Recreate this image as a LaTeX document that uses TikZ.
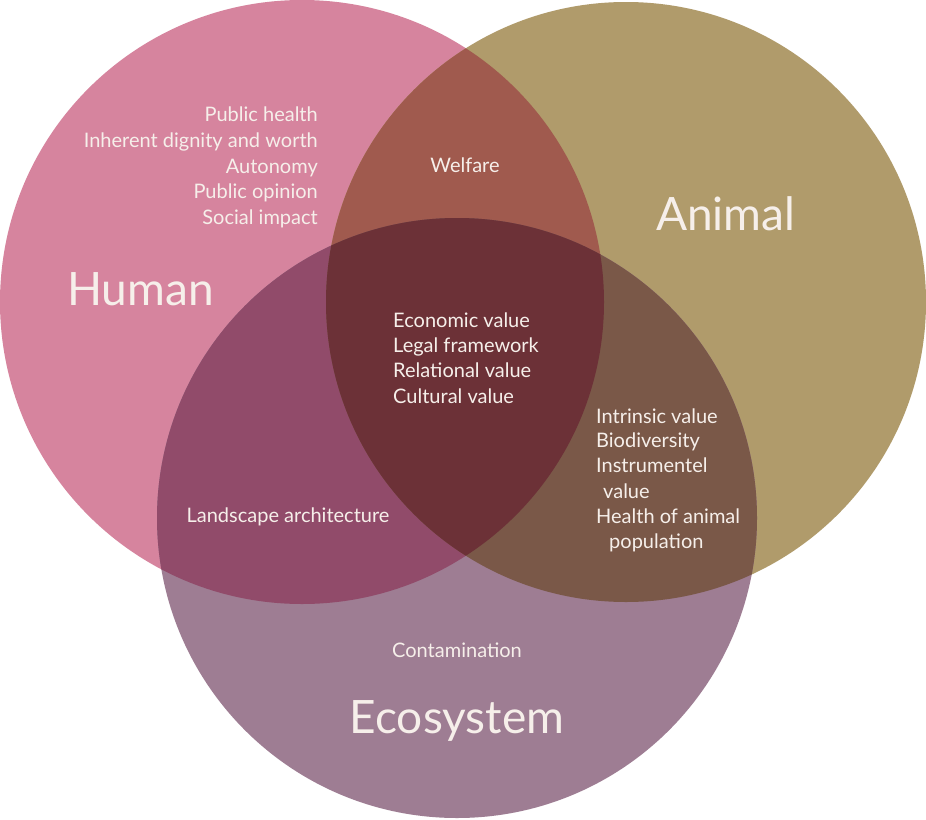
\documentclass[tikz,border=0pt]{standalone}
\usepackage{fontspec}
\setmainfont{Lato}
\usetikzlibrary{positioning}
\definecolor{humanfill}{HTML}{D6849E}
\definecolor{animalfill}{HTML}{B09B6B}
\definecolor{ecofill}{HTML}{9E7D93}
\definecolor{hafill}{HTML}{A05A4E}
\definecolor{hefill}{HTML}{914B6A}
\definecolor{aefill}{HTML}{7A5848}
\definecolor{corefill}{HTML}{6C3137}
\definecolor{labeltext}{HTML}{F6EFEA}

\begin{document}
\begin{tikzpicture}[x=1pt, y=-1pt,
        big/.style={font=\fontsize{46}{46}\selectfont, text=labeltext, inner sep=0pt},
        item/.style={font=\fontsize{20}{24}\selectfont, text=labeltext, inner sep=0pt},
    ]
    \useasboundingbox[fill=white] (0,0) rectangle (926,819);

    % circle centres
    \coordinate (hc) at (302,302);
    \coordinate (ac) at (626,302);
    \coordinate (ec) at (457,518);

    % the three sets
    \fill[humanfill] (hc) circle[radius=302];
    \fill[animalfill] (ac) circle[radius=300];
    \fill[ecofill] (ec) circle[radius=300];

    % pairwise overlaps
    \begin{scope}
        \clip (hc) circle[radius=302];
        \fill[hafill] (ac) circle[radius=300];
        \fill[hefill] (ec) circle[radius=300];
    \end{scope}
    \begin{scope}
        \clip (ac) circle[radius=300];
        \fill[aefill] (ec) circle[radius=300];
        % all three
        \clip (hc) circle[radius=302];
        \fill[corefill] (ec) circle[radius=300];
    \end{scope}

    % set names
    \node[big, anchor=base west] (human) at (67,305) {Human};
    \node[big, anchor=base west] (animal) at (656,230) {Animal};
    \node[big, anchor=base] (eco) at (457,733) {Ecosystem};

    % human only
    \foreach \txt [count=\i] in {Public health, Inherent dignity and worth,
            Autonomy, Public opinion, Social impact}
        \node[item, anchor=base east] (hum\i) at (318, 96+25.7*\i) {\txt};

    % human and animal
    \node[item, anchor=base] (welfare) at (465,172) {Welfare};

    % all three
    \foreach \txt [count=\i] in {Economic value, Legal framework,
            Relational value, Cultural value}
        \node[item, anchor=base west] (core\i) at (393, 302+25.3*\i) {\txt};

    % animal and ecosystem
    \node[item, anchor=base west] (ae1) at (596,423) {Intrinsic value};
    \node[item, anchor=base west] (ae2) at (596,447) {Biodiversity};
    \node[item, anchor=base west] (ae3) at (596,472) {Instrumentel};
    \node[item, anchor=base west] (ae4) at (603,498) {value};
    \node[item, anchor=base west] (ae5) at (596,523) {Health of animal};
    \node[item, anchor=base west] (ae6) at (609,548) {population};

    % human and ecosystem
    \node[item, anchor=base] (land) at (288,522) {Landscape architecture};

    % ecosystem only
    \node[item, anchor=base] (contam) at (457,657) {Contamination};
\end{tikzpicture}
\end{document}
